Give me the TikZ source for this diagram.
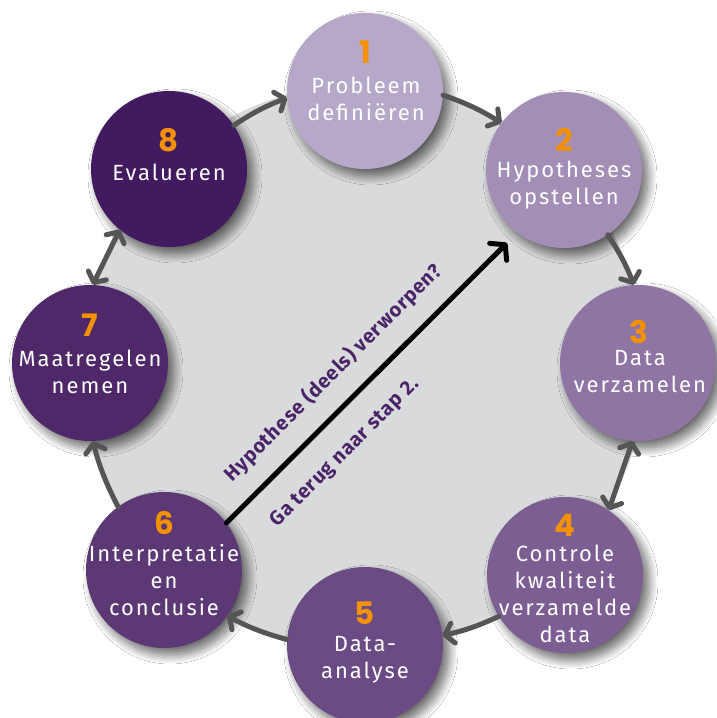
\documentclass[tikz,border=0pt]{standalone}
\usepackage{fontspec}
\setmainfont{Fira Sans}
\newfontfamily\numfont{Poppins}
\usetikzlibrary{arrows.meta,shadows.blur}
\definecolor{bggray}{HTML}{D9DADB}
\definecolor{arrgray}{HTML}{555556}
\definecolor{orangec}{HTML}{F39200}
\definecolor{purptext}{HTML}{4A2468}
\definecolor{cA}{HTML}{B6A8C8}
\definecolor{cB}{HTML}{A38EB6}
\definecolor{cC}{HTML}{8F75A3}
\definecolor{cD}{HTML}{7D5E93}
\definecolor{cE}{HTML}{6B4B84}
\definecolor{cF}{HTML}{5C3875}
\definecolor{cG}{HTML}{4F286A}
\definecolor{cH}{HTML}{421A60}
\begin{document}
\begin{tikzpicture}[x=1pt,y=1pt,
  stepcirc/.style={circle, minimum size=156pt, inner sep=0pt,
    blur shadow={shadow xshift=6pt, shadow yshift=-7pt, shadow blur radius=9pt, shadow blur steps=14, shadow opacity=60}},
  num/.style={font=\numfont\bfseries\fontsize{31}{31}\selectfont, text=orangec, inner sep=0pt},
  lbl/.style={font=\fontsize{22}{27}\selectfont\addfontfeatures{LetterSpace=9}, text=white, align=center, inner sep=0pt},
  cyc/.style={draw=arrgray, line width=5pt, line cap=round, -{Straight Barb[length=8pt,width=20pt,line cap=round,line join=round]}},
  dbl/.style={draw=arrgray, line width=5pt, line cap=round, {Straight Barb[length=8pt,width=20pt,line cap=round,line join=round]}-{Straight Barb[length=8pt,width=20pt,line cap=round,line join=round]}},
  back/.style={draw=black, line width=5pt, line cap=round, -{Straight Barb[length=10pt,width=24pt,line cap=round,line join=round]}},
  diag/.style={font=\bfseries\fontsize{20}{22}\selectfont\addfontfeatures{LetterSpace=4}, text=purptext, rotate=45, inner sep=0pt}
]
\useasboundingbox (0,0) rectangle (716,718);
\fill[white] (0,0) rectangle (716,718);
\node[circle, fill=bggray, minimum size=564pt, inner sep=0pt] (disk) at (364,352) {};

\node[stepcirc, fill=cA] (n1) at (365,627) {};
\node[stepcirc, fill=cB] (n2) at (564,548) {};
\node[stepcirc, fill=cC] (n3) at (638,355) {};
\node[stepcirc, fill=cD] (n4) at (565,143) {};
\node[stepcirc, fill=cE] (n5) at (365,73) {};
\node[stepcirc, fill=cF] (n6) at (164,148) {};
\node[stepcirc, fill=cG] (n7) at (90,355) {};
\node[stepcirc, fill=cH] (n8) at (169,549) {};

\node[num] (d1) at (365,666) {1};
\node[lbl] (t1) at (366,619) {Probleem\\definiëren};
\node[num] (d2) at (564,578) {2};
\node[lbl] (t2) at (564,533) {Hypotheses\\opstellen};
\node[num] (d3) at (639,386) {3};
\node[lbl] (t3) at (640,346) {Data\\verzamelen};
\node[num] (d4) at (565,193) {4};
\node[lbl] (t4) at (565,124) {Controle\\kwaliteit\\verzamelde\\data};
\node[num] (d5) at (365,105) {5};
\node[lbl] (t5) at (365,58) {Data-\\analyse};
\node[num] (d6) at (164,195) {6};
\node[lbl] (t6) at (164,138) {Interpretatie\\en\\conclusie};
\node[num] (d7) at (90,393) {7};
\node[lbl] (t7) at (90,346) {Maatregelen\\nemen};
\node[num] (d8) at (169,578) {8};
\node[lbl] (t8) at (169,546) {Evalueren};

\draw[cyc] (n8.34) to[bend left=6] (n1.185);
\draw[cyc] (n1.357) to[bend left=6] (n2.143);
\draw[cyc] (n2.304) to[bend left=6] (n3.93);
\draw[dbl] (n4.56) -- (n3.266);
\draw[cyc] (n4.212) to[bend left=6] (n5.7);
\draw[cyc] (n5.176) to[bend left=6] (n6.324);
\draw[cyc] (n6.126) to[bend left=6] (n7.272);
\draw[dbl] (n7.88) -- (n8.231);

\coordinate (tip) at (507,475);
\draw[back] (n6.37) -- (tip);
\node[diag] (q1) at (333,345) {Hypothese (deels) verworpen?};
\node[diag] (q2) at (345,265) {Ga terug naar stap 2.};
\end{tikzpicture}
\end{document}
